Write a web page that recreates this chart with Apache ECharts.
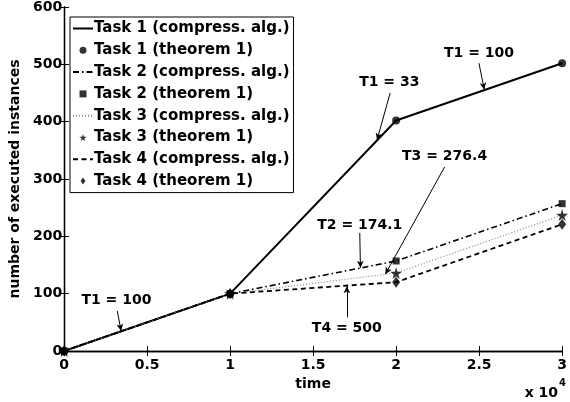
<!DOCTYPE html>
<html>
<head>
<meta charset="utf-8">
<script src="https://cdn.jsdelivr.net/npm/echarts@6/dist/echarts.min.js"></script>
<style>
html, body { margin: 0; padding: 0; background: #fff; }
#chart { width: 570px; height: 402px; }
</style>
</head>
<body>
<div id="chart"></div>
<script>
// time values (plotted in units of 10^4 on the axis labels)
var times = [0, 10000, 20000, 30000];
var task1 = [0, 100, 402, 502];
var task2 = [0, 100, 157, 257];
var task3 = [0, 100, 136, 237];
var task4 = [0, 100, 120, 221];

// annotation text: [label, textX, textY, arrowFromX, arrowFromY, arrowToX, arrowToY]
var notes = [
    ['T1 = 100', 3150, 89, 3200, 70, 3435, 35],
    ['T1 = 33', 19590, 469, 19640, 450, 18850, 368],
    ['T1 = 100', 24990, 520, 24990, 502, 25310, 456],
    ['T3 = 276.4', 22920, 340, 22920, 321, 19350, 134],
    ['T2 = 174.1', 17810, 220, 17810, 206, 17850, 145],
    ['T4 = 500', 17030, 40, 17030, 59, 17030, 113]
];

var starPath = 'path://M50,0 L61,35 L98,35 L68,57 L79,91 L50,70 L21,91 L32,57 L2,35 L39,35 Z';
var squarePath = 'path://M0,0 L10,0 L10,10 L0,10 Z';
var diamondPath = 'path://M5,0 L10,7 L5,14 L0,7 Z';
var font = 'DejaVu Sans, sans-serif';

function pairs(ys) {
    return times.map(function (t, i) { return [t, ys[i]]; });
}

function lineSeries(name, ys, type, color, width) {
    return {
        name: name,
        type: 'line',
        data: pairs(ys),
        symbol: 'none',
        lineStyle: { color: color, width: width, type: type },
        itemStyle: { color: color },
        animation: false,
        z: 3
    };
}

function markSeries(name, ys, symbol, size) {
    return {
        name: name,
        type: 'scatter',
        data: pairs(ys),
        symbol: symbol,
        symbolSize: size,
        itemStyle: { color: '#000' },
        animation: false,
        z: 4
    };
}

var dashDot = [6, 3, 1.5, 3];
var series = [
    lineSeries('Task 1 (compress. alg.)', task1, 'solid', '#000', 2),
    markSeries('Task 1 (theorem 1)', task1, 'circle', 8),
    lineSeries('Task 2 (compress. alg.)', task2, dashDot, '#000', 1.6),
    markSeries('Task 2 (theorem 1)', task2, squarePath, 7),
    lineSeries('Task 3 (compress. alg.)', task3, [1, 2], '#888', 1.2),
    markSeries('Task 3 (theorem 1)', task3, starPath, 12),
    lineSeries('Task 4 (compress. alg.)', task4, [5, 3.5], '#000', 1.8),
    markSeries('Task 4 (theorem 1)', task4, diamondPath, [8, 11])
];

// annotations: arrows + text
series.push({
    type: 'line',
    data: [],
    silent: true,
    animation: false,
    markLine: {
        silent: true,
        animation: false,
        symbol: ['none', 'arrow'],
        symbolSize: [5, 7],
        lineStyle: { color: '#000', width: 1, type: 'solid' },
        label: { show: false },
        data: notes.map(function (n) {
            return [{ coord: [n[3], n[4]] }, { coord: [n[5], n[6]] }];
        })
    },
    markPoint: {
        silent: true,
        animation: false,
        symbol: 'circle',
        symbolSize: 1,
        itemStyle: { color: 'rgba(0,0,0,0)' },
        label: {
            show: true,
            position: 'inside',
            formatter: '{b}',
            color: '#000',
            fontFamily: font,
            fontWeight: 'bold',
            fontSize: 14
        },
        data: notes.map(function (n) {
            return { name: n[0], coord: [n[1], n[2]] };
        })
    }
});

// legend entries: plain line for the line series, small marker for the others
var legendData = series.slice(0, 8).map(function (s) {
    if (s.type === 'line') {
        return { name: s.name, itemStyle: { opacity: 0 } };
    }
    return { name: s.name, icon: s.symbol };
});

var dom = document.getElementById('chart');
var myChart = echarts.init(dom);
var option = {
    backgroundColor: '#fff',
    textStyle: { fontFamily: font },
    grid: {
        left: 58,
        right: 4,
        top: 7,
        bottom: 51
    },
    legend: {
        data: legendData,
        orient: 'vertical',
        left: 70,
        top: 17,
        padding: [4, 4, 4, 2],
        itemWidth: 20,
        itemHeight: 7,
        itemGap: 6.8,
        symbolKeepAspect: true,
        backgroundColor: '#fff',
        borderColor: '#000',
        borderWidth: 1,
        borderRadius: 0,
        textStyle: {
            color: '#000',
            fontFamily: font,
            fontWeight: 'bold',
            fontSize: 15,
            padding: [0, 0, 0, -4]
        }
    },
    xAxis: [
        {
            type: 'value',
            min: 0,
            max: 30000,
            interval: 5000,
            name: 'time',
            nameLocation: 'middle',
            nameGap: 24,
            nameTextStyle: { color: '#000', fontWeight: 'bold', fontSize: 14, fontFamily: font },
            axisLine: { show: true, lineStyle: { color: '#000', width: 1.3 } },
            axisTick: { show: true, inside: true, length: 5, lineStyle: { color: '#000' } },
            axisLabel: {
                color: '#000',
                fontWeight: 'bold',
                fontSize: 14,
                fontFamily: font,
                margin: 7,
                formatter: function (v) { return String(v / 10000); }
            },
            splitLine: { show: false }
        },
        {
            type: 'value',
            position: 'top',
            min: 0,
            max: 30000,
            interval: 5000,
            axisLine: { show: true, lineStyle: { color: '#000', width: 1.3 } },
            axisTick: { show: true, inside: true, length: 5, lineStyle: { color: '#000' } },
            axisLabel: { show: false },
            splitLine: { show: false }
        }
    ],
    yAxis: [
        {
            type: 'value',
            min: 0,
            max: 600,
            interval: 100,
            name: 'number of executed instances',
            nameLocation: 'middle',
            nameGap: 38,
            nameTextStyle: { color: '#000', fontWeight: 'bold', fontSize: 14, fontFamily: font },
            axisLine: { show: true, lineStyle: { color: '#000', width: 1.3 } },
            axisTick: { show: true, inside: true, length: 5, lineStyle: { color: '#000' } },
            axisLabel: { color: '#000', fontWeight: 'bold', fontSize: 14, fontFamily: font, margin: 2 },
            splitLine: { show: false }
        },
        {
            type: 'value',
            position: 'right',
            min: 0,
            max: 600,
            interval: 100,
            axisLine: { show: true, lineStyle: { color: '#000', width: 1.3 } },
            axisTick: { show: true, inside: true, length: 5, lineStyle: { color: '#000' } },
            axisLabel: { show: false },
            splitLine: { show: false }
        }
    ],
    graphic: [
        {
            type: 'text',
            right: 4,
            top: 378,
            style: {
                text: '{a|x 10}{b|4}',
                rich: {
                    a: { fontSize: 14, fontWeight: 'bold', fontFamily: font, fill: '#000', padding: [8, 0, 0, 0] },
                    b: { fontSize: 10, fontWeight: 'bold', fontFamily: font, fill: '#000', verticalAlign: 'top', padding: [0, 0, 8, 1] }
                }
            }
        }
    ],
    series: series
};
if (option && typeof option === 'object') {
    myChart.setOption(option, true);
    window.onresize = myChart.resize;
}
</script>
</body>
</html>
